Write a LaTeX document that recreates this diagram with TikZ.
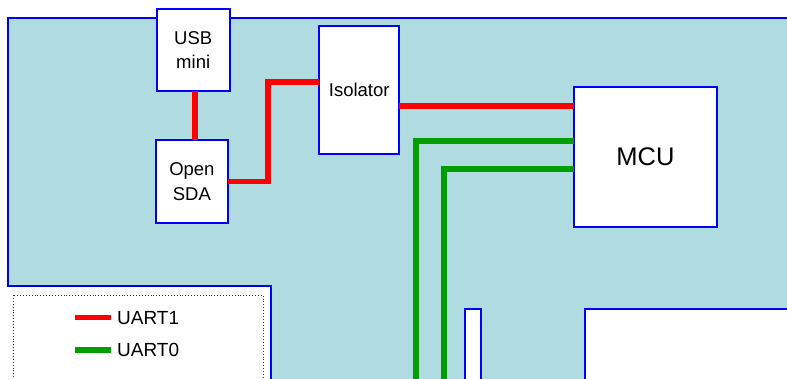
\documentclass[tikz,border=0pt]{standalone}
\usepackage{fontspec}
\setmainfont{Liberation Sans}
\usepackage{tikz}
\definecolor{board_teal}{RGB}{176, 219, 224}
\definecolor{uart_red}{RGB}{255, 0, 0}
\definecolor{uart_green}{RGB}{0, 158, 0}
\tikzstyle{blk}=[rectangle,fill=white,draw=blue,line width=2pt,
  inner sep=0pt,outer sep=0pt,align=center,font=\fontsize{18.5}{24.5}\selectfont]
\tikzstyle{u1}=[draw=uart_red,line width=5.8pt]
\tikzstyle{u0}=[draw=uart_green,line width=6pt]
\tikzstyle{legtxt}=[anchor=base west,inner sep=0pt,font=\fontsize{19}{22}\selectfont]

\begin{document}
\begin{tikzpicture}[x=1pt,y=-1pt]
    \useasboundingbox (0,0) rectangle (787,378);
    \clip (0,0) rectangle (787,378);
    % board
    \filldraw [fill=board_teal,draw=blue,line width=2pt] (8,17.7) -- (800,17.7) -- (800,400)
      -- (271,400) -- (271,285.7) -- (8,285.7) -- cycle;
    \draw [fill=white,draw=blue,line width=2pt] (465.3,308.7) rectangle (481,400);
    \draw [fill=white,draw=blue,line width=2pt] (584.7,308.7) rectangle (800,400);
    % blocks
    \node [style=blk,minimum width=73pt,minimum height=81.7pt] (usb) at (193.2,50.2) {USB\\mini};
    \node [style=blk,minimum width=72.3pt,minimum height=82.4pt] (sda) at (191.9,181.5) {Open\\SDA};
    \node [style=blk,minimum width=80.3pt,minimum height=128pt] (iso) at (359.2,90.3) {Isolator};
    \node [style=blk,minimum width=143pt,minimum height=140pt,font=\fontsize{25.5}{30}\selectfont] (mcu) at (645.5,156.7) {MCU};
    \coordinate (iso_u1) at ([yshift=8.6pt]iso.west);
    \coordinate (mcu_u1) at ([yshift=50.7pt]mcu.west);
    \coordinate (g1end) at (416,400);
    \coordinate (g2end) at (444,400);
    % wires
    \draw [style=u1] (usb.south -| 195,0) -- (sda.north -| 195,0);
    \draw [style=u1] (sda.east) -- ++(40,0) |- (iso_u1);
    \draw [style=u1] (iso.east |- mcu_u1) -- (mcu_u1);
    \draw [style=u0] ([yshift=16pt]mcu.west) -| (g1end);
    \draw [style=u0] ([yshift=-12.3pt]mcu.west) -| (g2end);
    % legend
    \draw [dotted,line width=0.9pt,black!80] (13.3,295) rectangle (263,400);
    \node [style=legtxt] (leg1) at (117,324) {UART1};
    \node [style=legtxt] (leg0) at (117,356.7) {UART0};
    \draw [style=u1] ([xshift=-6pt]leg1.west) -- ++(-36,0);
    \draw [style=u0] ([xshift=-6pt]leg0.west) -- ++(-36,0);
\end{tikzpicture}
\end{document}
